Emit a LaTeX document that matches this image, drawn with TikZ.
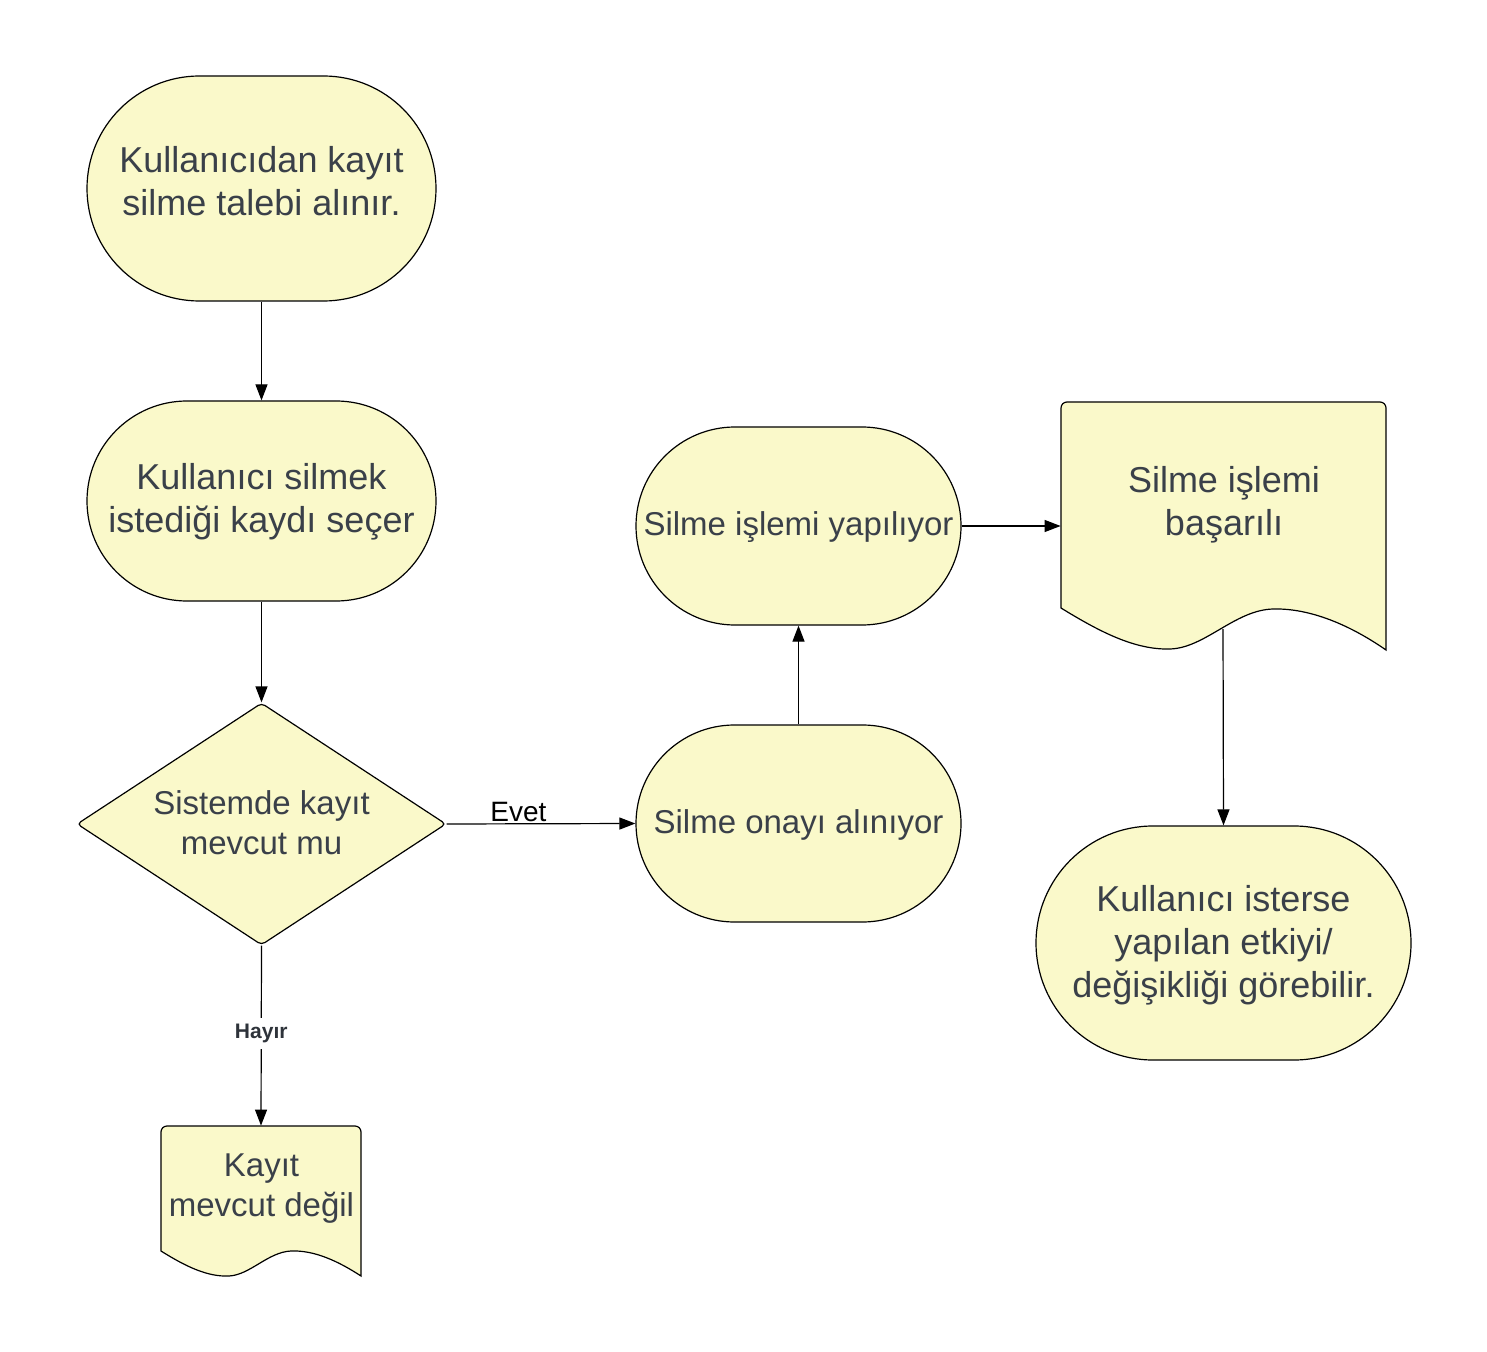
\documentclass[tikz,border=0pt]{standalone}
\usepackage{fontspec}
\setmainfont{Liberation Sans}
\usetikzlibrary{shapes.misc,shapes.geometric,arrows.meta}
\definecolor{boxfill}{HTML}{FAF9CA}
\definecolor{txtc}{HTML}{3A4049}
\begin{document}
\begin{tikzpicture}[x=0.5pt,y=-0.5pt,
  every node/.style={font=\fontsize{18pt}{21.5pt}\selectfont, text=txtc},
  stadium/.style={rounded rectangle, draw=black, fill=boxfill, line width=0.6pt, inner sep=0pt, align=center},
  decision/.style={diamond, draw=black, fill=boxfill, line width=0.6pt, inner sep=0pt, rounded corners=2pt},
  docanchor/.style={rectangle, inner sep=0pt},
  docshape/.style={draw=black, fill=boxfill, line width=0.6pt},
  smalltxt/.style={font=\fontsize{16.5pt}{20pt}\selectfont, align=center},
  bigtxt/.style={align=center},
  conn/.style={line width=0.6pt, draw=black, -{Triangle[length=8pt,width=6pt]}},
  evetlbl/.style={font=\fontsize{14pt}{16pt}\selectfont, text=black, inner sep=0.5pt},
  hayirlbl/.style={font=\bfseries\fontsize{10.5pt}{12pt}\selectfont, text=txtc!80!black, fill=white, inner sep=3pt}
]
\useasboundingbox (0,0) rectangle (1487,1352);

% nodes
\node[stadium, minimum width=174.5pt, minimum height=112.5pt] (n1) at (261.5,188.5) {};
\node[bigtxt] (n1t) at (261.5,181.5) {Kullanıcıdan kayıt\\silme talebi alınır.};
\node[stadium, minimum width=174.5pt, minimum height=100pt] (n2) at (261.5,501) {};
\node[bigtxt] (n2t) at (261.5,502) {Kullanıcı silmek\\istediği kaydı seçer};
\node[decision, minimum width=184.5pt, minimum height=121pt] (d) at (261.5,824) {};
\node[smalltxt] (dt) at (261.5,823) {Sistemde kayıt\\mevcut mu};
\node[stadium, minimum width=162.5pt, minimum height=98.5pt] (n4) at (798.5,823.5) {};
\node[smalltxt] (n4t) at (798.5,825) {Silme onayı alınıyor};
\node[stadium, minimum width=162.5pt, minimum height=99pt] (n5) at (798.5,526) {};
\node[smalltxt] (n5t) at (798.5,527.5) {Silme işlemi yapılıyor};
\node[stadium, minimum width=187.5pt, minimum height=117pt] (n7) at (1223.5,943) {};
\node[bigtxt] (n7t) at (1223.5,945) {Kullanıcı isterse\\yapılan etkiyi/\\değişikliği görebilir.};

% document 1
\draw[docshape] (1386,650) .. controls (1350,625) and (1310,608) .. (1273,609)
  .. controls (1235,610) and (1205,648) .. (1170,649)
  .. controls (1135,650) and (1100,632) .. (1061,608)
  [rounded corners=3pt] -- (1061,402) -- (1386,402) [sharp corners] -- cycle;
\node[docanchor, minimum width=162.5pt, minimum height=124pt] (doc1) at (1223.5,526) {};
\coordinate (doc1w) at (1223,629);
\node[bigtxt] (doc1t) at (1224,505) {Silme işlemi\\başarılı};

% document 2
\draw[docshape] (361,1276) .. controls (338,1261) and (314,1250) .. (291,1251)
  .. controls (268,1252) and (250,1275) .. (229,1276)
  .. controls (207,1277) and (185,1266) .. (161,1251)
  [rounded corners=3pt] -- (161,1126) -- (361,1126) [sharp corners] -- cycle;
\node[docanchor, minimum width=100pt, minimum height=75pt] (doc2) at (261,1201) {};
\node[smalltxt] (doc2t) at (261.5,1189) {Kayıt\\mevcut değil};

% connectors
\draw[conn] (n1.south) -- (n2.north);
\draw[conn] (n2.south) -- (d.north);
\draw[conn] (d.east) -- node[pos=0.38, above, evetlbl] {Evet} (n4.west);
\draw[conn] (n4.north) -- (n5.south);
\draw[conn] (n5.east) -- (doc1.west);
\draw[conn] (doc1w) -- (n7.north);
\draw[conn] (d.south) -- node[pos=0.49, hayirlbl] {Hayır} (doc2.north);
\end{tikzpicture}
\end{document}
